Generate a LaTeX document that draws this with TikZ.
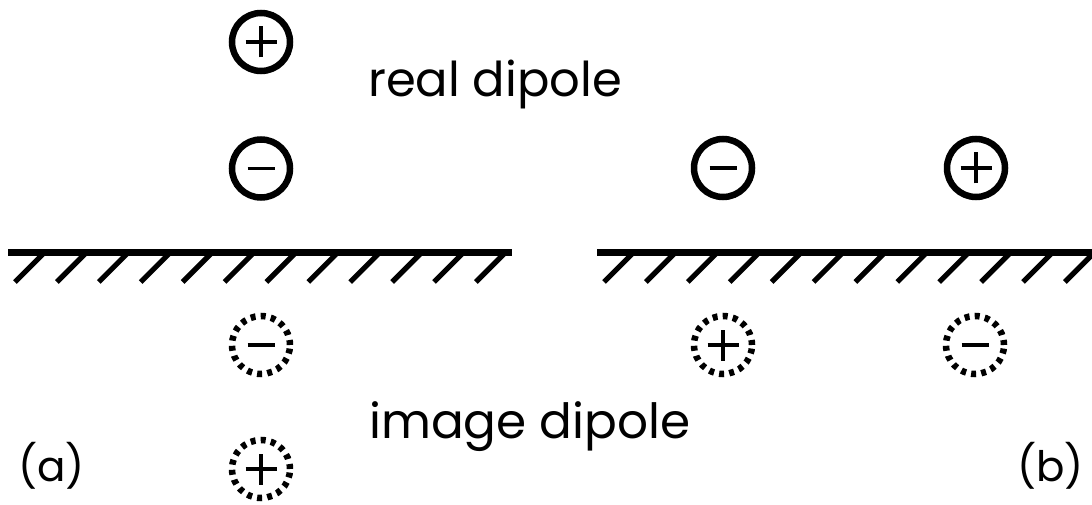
\documentclass[tikz,border=0pt]{standalone}
\usepackage{fontspec}
\setmainfont{Poppins}
\begin{document}
\begin{tikzpicture}[x=1pt,y=-1pt,
  charge/.style={circle,draw,line width=6.5pt,minimum size=58pt,inner sep=0pt},
  imagecharge/.style={circle,draw,line width=6.5pt,minimum size=58pt,inner sep=0pt,dash pattern=on 5pt off 5.2pt},
  sign/.style={line width=3.2pt},
  ground/.style={line width=7.5pt},
  hatch/.style={line width=5.2pt},
  lbl/.style={inner sep=0pt}]
\useasboundingbox (0,0) rectangle (1092,505);
\clip (0,0) rectangle (1092,505);
% (a)
\node[charge] (ap) at (261,42) {};
\node[charge] (am) at (261,168.5) {};
\node[imagecharge] (aim) at (261,345) {};
\node[imagecharge] (aip) at (261,469) {};
% (b)
\node[charge] (bm) at (723,168) {};
\node[charge] (bp) at (976,168) {};
\node[imagecharge] (bip) at (723,345) {};
\node[imagecharge] (bim) at (975,345) {};
% signs
\foreach \n in {ap,bp,aip,bip}{
  \draw[sign] ([xshift=-15.5pt]\n.center) -- ([xshift=15.5pt]\n.center);
  \draw[sign] ([yshift=-15.5pt]\n.center) -- ([yshift=15.5pt]\n.center);
}
\foreach \n in {am,bm,aim,bim}{
  \draw[sign] ([xshift=-13.5pt]\n.center) -- ([xshift=13.5pt]\n.center);
}
% grounds
\coordinate (ga1) at (8,252.5);
\coordinate (ga2) at (512,252.5);
\coordinate (gb1) at (597,252.5);
\coordinate (gb2) at (1100,252.5);
\draw[ground] (ga1) -- (ga2);
\draw[ground] (gb1) -- (gb2);
\foreach \k in {0,...,11}{
  \draw[hatch] (43+41.9*\k,254) -- ++(-28,28);
  \draw[hatch] (632+41.9*\k,254) -- ++(-28,28);
}
% labels
\node[lbl,anchor=base west,font=\fontsize{48}{48}\selectfont] (real) at (368,97) {real dipole};
\node[lbl,anchor=base west,font=\fontsize{48.5}{48}\selectfont] (img) at (369,438) {image dipole};
\node[lbl,anchor=base west,font=\fontsize{42}{42}\selectfont] (la) at (18,481) {(a)};
\node[lbl,anchor=base east,font=\fontsize{42}{42}\selectfont] (lb) at (1084,481) {(b)};
\end{tikzpicture}
\end{document}
